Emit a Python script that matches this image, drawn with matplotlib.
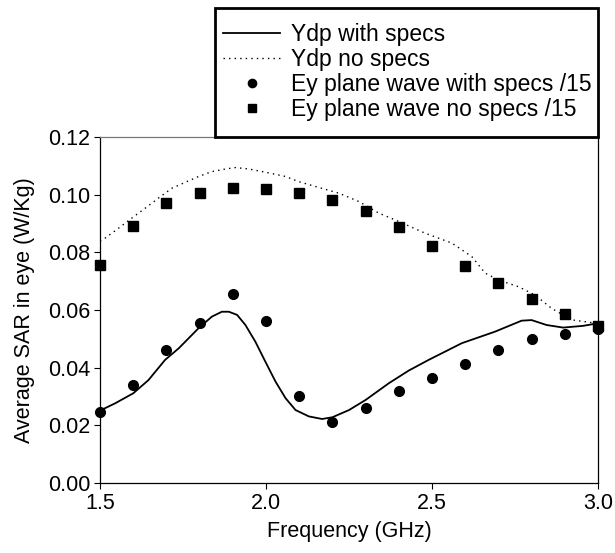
import matplotlib
matplotlib.use('Agg')
import matplotlib.pyplot as plt
from matplotlib.patches import Rectangle

plt.rcParams['font.family'] = ['Liberation Sans', 'DejaVu Sans']

# measured points (GHz)
freq_pts = [1.5, 1.6, 1.7, 1.8, 1.9, 2.0, 2.1, 2.2, 2.3, 2.4, 2.5, 2.6, 2.7, 2.8, 2.9, 3.0]
ey_with = [0.0246, 0.0340, 0.0461, 0.0556, 0.0656, 0.0562, 0.0303, 0.0210,
           0.0261, 0.0320, 0.0365, 0.0413, 0.0463, 0.0501, 0.0518, 0.0534]
ey_no = [0.0756, 0.0892, 0.0972, 0.1007, 0.1023, 0.1019, 0.1005, 0.0983,
         0.0944, 0.0887, 0.0821, 0.0754, 0.0693, 0.0637, 0.0587, 0.0545]

# Ydp curves
f_with = [1.5, 1.545, 1.60, 1.646, 1.696, 1.737, 1.797, 1.837, 1.867, 1.888, 1.913,
          1.938, 1.968, 1.998, 2.029, 2.059, 2.089, 2.129, 2.169, 2.20, 2.25, 2.30,
          2.37, 2.43, 2.49, 2.59, 2.69, 2.77, 2.80, 2.845, 2.895, 2.955, 3.0]
ydp_with = [0.0251, 0.0276, 0.0311, 0.0357, 0.0427, 0.0467, 0.0537, 0.0577, 0.0594,
            0.0594, 0.0583, 0.0548, 0.0490, 0.0421, 0.0351, 0.0294, 0.0253, 0.0231,
            0.0222, 0.0228, 0.0253, 0.0288, 0.0346, 0.0390, 0.0427, 0.0485, 0.0525,
            0.0563, 0.0565, 0.0548, 0.0539, 0.0545, 0.0554]

f_no = [1.5, 1.515, 1.555, 1.595, 1.636, 1.676, 1.716, 1.757, 1.797, 1.837, 1.878,
        1.908, 1.948, 1.998, 2.059, 2.099, 2.15, 2.22, 2.28, 2.34, 2.40, 2.48, 2.56,
        2.62, 2.66, 2.70, 2.76, 2.81, 2.86, 2.92, 2.995]
ydp_no = [0.0839, 0.0849, 0.0883, 0.0918, 0.0953, 0.0988, 0.1022, 0.1043, 0.1063,
          0.1080, 0.1089, 0.1094, 0.1089, 0.1078, 0.1063, 0.1045, 0.1028, 0.1005,
          0.0976, 0.0936, 0.0907, 0.0866, 0.0832, 0.0785, 0.0728, 0.0704, 0.0681,
          0.0652, 0.0606, 0.0566, 0.0554]

font = 15.5
legfont = 16.5

fig = plt.figure(figsize=(6.15, 5.53), dpi=100)
ax = fig.add_axes([100 / 615, 1 - 483 / 553, 498 / 615, 346 / 553])

ax.plot(f_with, ydp_with, '-', color='black', linewidth=1.3, label='Ydp with specs')
ax.plot(f_no, ydp_no, color='black', linewidth=1.0, linestyle=(0, (1, 3)), label='Ydp no specs')
ax.plot(freq_pts, ey_with, 'o', color='black', markersize=7, clip_on=False,
        label='Ey plane wave with specs /15')
ax.plot(freq_pts, ey_no, 's', color='black', markersize=6.5, clip_on=False,
        label='Ey plane wave no specs /15')

ax.set_xlim(1.5, 3.0)
ax.set_ylim(0, 0.12)
ax.set_xticks([1.5, 2.0, 2.5, 3.0])
ax.set_xticklabels(['1.5', '2.0', '2.5', '3.0'])
ax.set_yticks([0.0, 0.02, 0.04, 0.06, 0.08, 0.10, 0.12])
ax.set_yticklabels(['0.00', '0.02', '0.04', '0.06', '0.08', '0.10', '0.12'])
ax.tick_params(axis='both', direction='out', length=4, width=0.8, labelsize=font, pad=3)
for s in ax.spines.values():
    s.set_linewidth(0.9)
ax.spines['top'].set_color('#777777')

ax.set_xlabel('Frequency (GHz)', fontsize=font, labelpad=5)
ax.set_ylabel('Average SAR in eye (W/Kg)', fontsize=font, labelpad=9)

# legend frame drawn by hand (box is taller than the entries need)
box = Rectangle((215 / 615, 1 - 137 / 553), 383 / 615, 129 / 553, transform=fig.transFigure,
                facecolor='white', edgecolor='black', linewidth=2, zorder=5)
fig.patches.append(box)
leg = fig.legend(loc='upper left', bbox_to_anchor=(223 / 615, 1 - 23 / 553),
                 fontsize=legfont, frameon=False, handlelength=2.5, handletextpad=0.45,
                 borderpad=0, labelspacing=0.09, borderaxespad=0, markerscale=0.85)
leg.set_zorder(6)

fig.savefig('out.png', dpi=100)
